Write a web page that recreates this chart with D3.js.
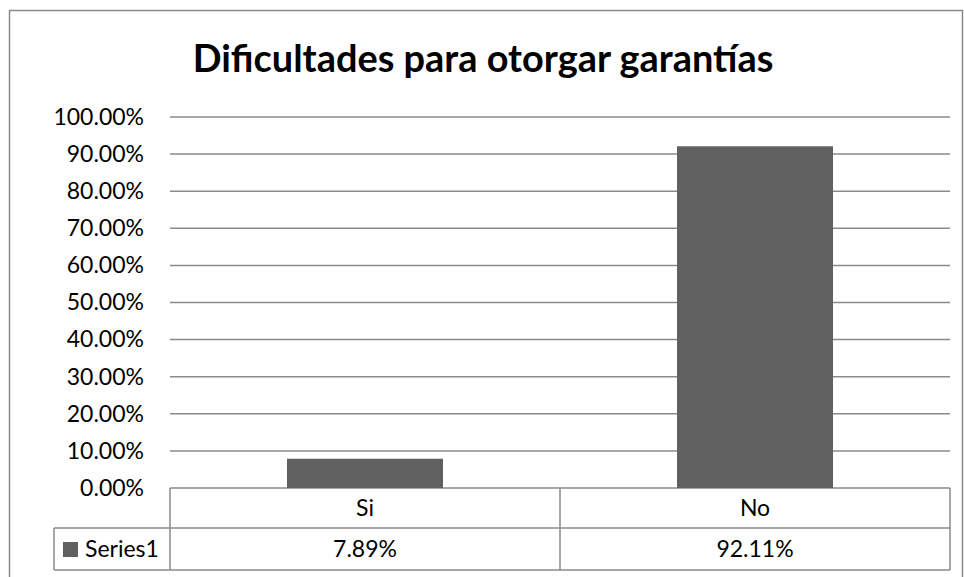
<!DOCTYPE html>
<html>
<head>
<meta charset="utf-8">
<script src="https://cdn.jsdelivr.net/npm/d3@7"></script>
<style>
  body { margin: 0; background: #fff; }
  text { font-family: Lato, "Open Sans", "Liberation Sans", sans-serif; fill: #000; }
</style>
</head>
<body>
<div id="chart"></div>
<script>
(function(){
    const title = 'Dificultades para otorgar garantías';
    const categories = ['Si', 'No'];
    const series1 = [0.0789, 0.9211];
    const seriesName = 'Series1';
    const yTicks = [0, 0.1, 0.2, 0.3, 0.4, 0.5, 0.6, 0.7, 0.8, 0.9, 1.0];

    const W = 964, H = 577;
    const plot = { left: 170, right: 950, top: 117, bottom: 488 };
    const rowH = [40, 42];
    const gridColor = '#8a8a8a';
    const barColor = '#606060';
    const fs = '23px';

    const svg = d3.select('#chart')
        .append('svg')
            .attr('width', W)
            .attr('height', H);

    // outer chart border
    svg.append('rect')
        .attr('x', 9.5).attr('y', 10.5)
        .attr('width', 953).attr('height', 580)
        .attr('fill', 'none')
        .attr('stroke', gridColor)
        .attr('stroke-width', 1.5);

    const t = svg.append('text')
        .attr('x', 483)
        .attr('y', 72)
        .attr('text-anchor', 'middle')
        .style('font-weight', 'bold')
        .style('font-size', '36px')
        .text(title);
    const tw = t.node().getComputedTextLength();
    t.style('font-size', (36 * 581 / tw) + 'px');

    const x = d3.scaleBand()
        .domain(categories)
        .range([plot.left, plot.right])
        .paddingInner(0.6)
        .paddingOuter(0.3);

    const y = d3.scaleLinear()
        .domain([0, 1])
        .range([plot.bottom, plot.top]);

    // gridlines
    svg.append('g')
        .selectAll('line')
        .data(yTicks)
        .enter()
        .append('line')
            .attr('x1', plot.left)
            .attr('x2', plot.right)
            .attr('y1', d => y(d))
            .attr('y2', d => y(d))
            .attr('stroke', gridColor)
            .attr('stroke-width', 1.5);

    // y axis labels
    const yAxis = svg.append('g')
        .attr('transform', `translate(${plot.left}, 0)`)
        .call(d3.axisLeft(y).tickValues(yTicks).tickFormat(d3.format('.2%')).tickSize(0).tickPadding(26));
    yAxis.select('.domain').remove();
    yAxis.selectAll('text')
        .style('font-size', fs)
        .style('font-family', 'Lato, "Open Sans", sans-serif');

    // bars
    svg.selectAll('.bar')
        .data(series1)
        .enter()
        .append('rect')
            .attr('class', 'bar')
            .attr('x', (d, i) => x(categories[i]))
            .attr('y', d => y(d))
            .attr('width', x.bandwidth())
            .attr('height', d => y(0) - y(d))
            .style('fill', barColor);

    // data table
    const tbl = svg.append('g');
    const tableLeft = 54;
    const r1 = plot.bottom, r2 = plot.bottom + rowH[0], r3 = r2 + rowH[1];
    const step = (plot.right - plot.left) / categories.length;

    const lines = [
        [plot.left, r1, plot.left, r3],
        [plot.right, r1, plot.right, r3],
        [tableLeft, r2, plot.right, r2],
        [tableLeft, r3, plot.right, r3],
        [tableLeft, r2, tableLeft, r3]
    ];
    categories.forEach((c, i) => {
        if (i > 0) lines.push([plot.left + step * i, r1, plot.left + step * i, r3]);
    });
    tbl.selectAll('line')
        .data(lines)
        .enter()
        .append('line')
            .attr('x1', d => d[0]).attr('y1', d => d[1])
            .attr('x2', d => d[2]).attr('y2', d => d[3])
            .attr('stroke', gridColor)
            .attr('stroke-width', 1.5);

    tbl.selectAll('.cat')
        .data(categories)
        .enter()
        .append('text')
            .attr('class', 'cat')
            .attr('x', d => x(d) + x.bandwidth() / 2)
            .attr('y', r1 + rowH[0] / 2 + 8)
            .attr('text-anchor', 'middle')
            .style('font-size', fs)
            .text(d => d);

    tbl.selectAll('.val')
        .data(series1)
        .enter()
        .append('text')
            .attr('class', 'val')
            .attr('x', (d, i) => x(categories[i]) + x.bandwidth() / 2)
            .attr('y', r2 + rowH[1] / 2 + 8)
            .attr('text-anchor', 'middle')
            .style('font-size', fs)
            .text(d => d3.format('.2%')(d));

    tbl.append('rect')
        .attr('x', 63).attr('y', r2 + 14)
        .attr('width', 15).attr('height', 15)
        .style('fill', barColor);
    tbl.append('text')
        .attr('x', 85)
        .attr('y', r2 + rowH[1] / 2 + 8)
        .style('font-size', fs)
        .text(seriesName);
}())
</script>
</body>
</html>
